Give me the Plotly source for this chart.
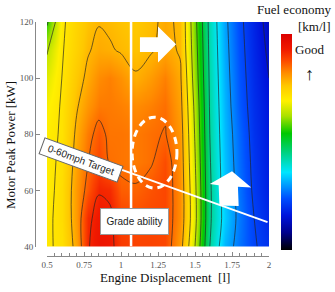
import plotly.graph_objects as go

# ---- data ----
displacement = [0.5, 0.6, 0.7, 0.775, 0.85, 0.925, 1.0, 1.1, 1.2, 1.3, 1.4, 1.5, 1.6, 1.7, 1.8, 1.9, 2.0]
power = [40, 50, 60, 70, 80, 90, 100, 110, 120]

fuel_40 = [0.705, 0.717, 0.80, 0.915, 0.945, 0.935, 0.895, 0.885, 0.885, 0.88, 0.805, 0.64, 0.43, 0.32, 0.27, 0.225, 0.20]
fuel_50 = [0.70, 0.725, 0.81, 0.91, 0.935, 0.93, 0.885, 0.875, 0.88, 0.88, 0.82, 0.66, 0.44, 0.34, 0.275, 0.22, 0.185]
fuel_60 = [0.695, 0.725, 0.81, 0.865, 0.917, 0.91, 0.86, 0.855, 0.87, 0.88, 0.82, 0.655, 0.44, 0.335, 0.27, 0.21, 0.175]
fuel_70 = [0.695, 0.72, 0.80, 0.848, 0.88, 0.845, 0.84, 0.835, 0.845, 0.875, 0.815, 0.645, 0.435, 0.33, 0.265, 0.205, 0.17]
fuel_80 = [0.695, 0.715, 0.79, 0.835, 0.865, 0.84, 0.84, 0.835, 0.845, 0.852, 0.81, 0.635, 0.43, 0.325, 0.26, 0.20, 0.165]
fuel_90 = [0.685, 0.714, 0.775, 0.81, 0.835, 0.835, 0.83, 0.82, 0.83, 0.845, 0.80, 0.625, 0.425, 0.32, 0.25, 0.195, 0.16]
fuel_100 = [0.665, 0.71, 0.76, 0.79, 0.82, 0.83, 0.815, 0.785, 0.805, 0.83, 0.79, 0.61, 0.42, 0.315, 0.245, 0.19, 0.15]
fuel_110 = [0.635, 0.705, 0.745, 0.776, 0.79, 0.785, 0.775, 0.765, 0.775, 0.795, 0.775, 0.60, 0.415, 0.31, 0.24, 0.185, 0.14]
fuel_120 = [0.56, 0.70, 0.74, 0.765, 0.778, 0.772, 0.765, 0.758, 0.77, 0.79, 0.772, 0.59, 0.41, 0.305, 0.235, 0.18, 0.13]

x_tickvals = [0.5, 0.75, 1, 1.25, 1.5, 1.75, 2]
x_ticktext = ["0.5", "0.75", "1", "1.25", "1.5", "1.75", "2"]
y_tickvals = [40, 60, 80, 100, 120]
y_ticktext = ["40", "60", "80", "100", "120"]

z = [fuel_40, fuel_50, fuel_60, fuel_70, fuel_80, fuel_90, fuel_100, fuel_110, fuel_120]

cscale = [
    [0.00, "rgb(0,0,0)"],
    [0.08, "rgb(0,0,140)"],
    [0.16, "rgb(0,20,220)"],
    [0.24, "rgb(0,80,255)"],
    [0.36, "rgb(0,230,255)"],
    [0.45, "rgb(0,210,130)"],
    [0.54, "rgb(0,200,0)"],
    [0.62, "rgb(170,225,0)"],
    [0.69, "rgb(255,240,0)"],
    [0.76, "rgb(255,200,0)"],
    [0.82, "rgb(255,140,0)"],
    [0.88, "rgb(252,70,0)"],
    [0.93, "rgb(240,25,0)"],
    [1.00, "rgb(220,0,0)"],
]

# pixel helpers for paper placement (plot area: x 35..269, y 22..256)
def px(p):
    return (p - 35) / 234.0

def py(p):
    return (256 - p) / 234.0

fig = go.Figure()
fig.add_trace(go.Heatmap(
    x=displacement, y=power, z=z, zmin=0, zmax=1, zsmooth="best",
    colorscale=cscale, hoverinfo="skip",
    colorbar=dict(x=px(281), xanchor="left", y=py(142), yanchor="middle",
                  len=216 / 234.0, lenmode="fraction", thickness=11,
                  showticklabels=False, ticks="", outlinewidth=0, xpad=0, ypad=0),
))
fig.add_trace(go.Contour(
    x=displacement, y=power, z=z, showscale=False, hoverinfo="skip",
    contours=dict(start=0.15, end=0.93, size=0.07, coloring="none"),
    line=dict(color="rgba(35,35,35,0.85)", width=0.8, smoothing=1),
))

serif = "Liberation Serif"
axis_common = dict(showgrid=False, zeroline=False, showline=True, linecolor="#888",
                   linewidth=1, ticks="inside", ticklen=4, tickcolor="#888",
                   tickfont=dict(family=serif, size=9, color="#555"),
                   anchor="free", position=0)

fig.update_layout(
    width=335, height=292,
    margin=dict(l=35, r=66, t=22, b=36),
    paper_bgcolor="white", plot_bgcolor="white",
    showlegend=False,
    xaxis=dict(domain=[(47 - 35) / 234.0, 1], range=[0.5, 2.0],
               tickvals=x_tickvals, ticktext=x_ticktext,
               minor=dict(dtick=0.05, tick0=0.5, ticks="inside", ticklen=3, tickcolor="#888"),
               **axis_common),
    yaxis=dict(domain=[(256 - 246.5) / 234.0, 1], range=[40, 120],
               tickvals=y_tickvals, ticktext=y_ticktext, **axis_common),
)

# ---- overlays ----
shapes = [
    dict(type="line", xref="x", yref="y", x0=1.068, x1=1.068, y0=40, y1=120,
         line=dict(color="white", width=2.5)),
    dict(type="line", xref="x", yref="y", x0=0.55, y0=75.96, x1=1.99, y1=48.7,
         line=dict(color="white", width=2)),
    dict(type="circle", xref="x", yref="y", x0=1.075, x1=1.378, y0=60.8, y1=86.1,
         line=dict(color="white", width=3, dash="7px,5px")),
    dict(type="path", xref="x", yref="y", fillcolor="white", line=dict(width=0),
         path="M 1.128,114.6 L 1.25,114.6 L 1.25,118.4 L 1.372,112.1 L 1.25,105.6 "
              "L 1.25,109.3 L 1.128,109.3 Z"),
    dict(type="path", xref="x", yref="y", fillcolor="white", line=dict(width=0),
         path="M 1.75,66.8 L 1.88,61.0 L 1.79,61.3 L 1.795,54.4 L 1.665,54.6 "
              "L 1.66,61.8 L 1.6,62.3 Z"),
]
fig.update_layout(shapes=shapes)

annotations = [
    dict(text="0-60mph Target", x=0.73, y=70.8, xref="x", yref="y", showarrow=False,
         textangle=20, bgcolor="white", bordercolor="#666", borderwidth=1,
         width=82, height=16, borderpad=0,
         font=dict(family="Liberation Sans", size=10, color="#222")),
    dict(text="Grade ability", x=1.09, y=48.9, xref="x", yref="y", showarrow=False,
         bgcolor="white", bordercolor="#999", borderwidth=1, width=67, height=25, borderpad=0,
         font=dict(family="Liberation Sans", size=10, color="#222")),
    dict(text="Fuel economy", x=px(294), y=py(10), xref="paper", yref="paper",
         showarrow=False, xanchor="center", yanchor="middle",
         font=dict(family=serif, size=13, color="#111")),
    dict(text="[km/l]", x=px(333), y=py(26), xref="paper", yref="paper",
         showarrow=False, xanchor="right", yanchor="middle",
         font=dict(family=serif, size=13, color="#111")),
    dict(text="Good", x=px(309), y=py(49), xref="paper", yref="paper",
         showarrow=False, xanchor="center", yanchor="middle",
         font=dict(family=serif, size=13, color="#111")),
    dict(text="↑", x=px(309), y=py(74), xref="paper", yref="paper",
         showarrow=False, xanchor="center", yanchor="middle",
         font=dict(family=serif, size=18, color="#111")),
    dict(text="Motor Peak Power [kW]", x=px(10), y=py(145), xref="paper", yref="paper",
         showarrow=False, textangle=-90, xanchor="center", yanchor="middle",
         font=dict(family=serif, size=13, color="#111")),
    dict(text="Engine Displacement&nbsp;&nbsp;[l]", x=px(165), y=py(277), xref="paper", yref="paper",
         showarrow=False, xanchor="center", yanchor="middle",
         font=dict(family=serif, size=13, color="#111")),
]
fig.update_layout(annotations=annotations)

fig.write_html("out.html")
